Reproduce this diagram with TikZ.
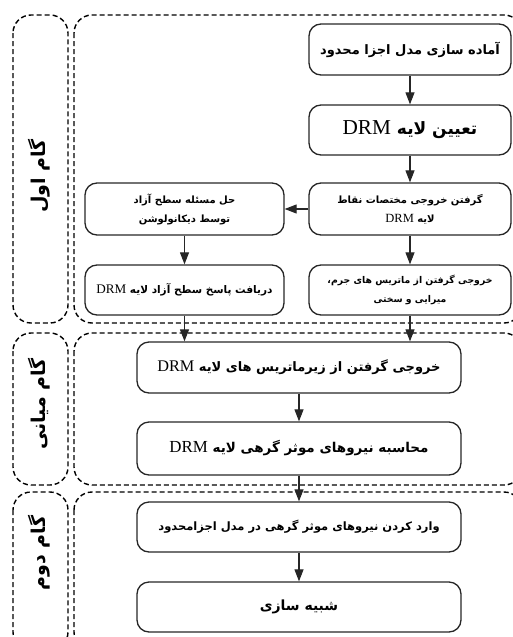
\documentclass[tikz,border=0pt]{standalone}
\usepackage{fontspec}
\setmainfont{Liberation Serif}
\newfontfamily\fa[Script=Arabic]{DejaVu Sans}
\TeXXeTstate=1
\usetikzlibrary{arrows.meta}
\newcommand{\rl}[1]{\beginR #1\endR}
\newcommand{\drm}{\beginL\scalebox{1.25}{\normalfont DRM}\endL}
\tikzset{
  frame/.style={draw=black, line width=1.4pt, dash pattern=on 5pt off 3pt, rounded corners=18pt},
  stepbox/.style={draw=black!85, line width=1.3pt, rounded corners=12pt, align=center, inner sep=2pt, font=\fa\bfseries},
  flow/.style={-{Triangle[width=9pt,length=12pt]}, line width=1.1pt, draw=black!85},
  stagelabel/.style={rotate=90, font=\fa\bfseries\fontsize{19}{21}\selectfont}
}
\begin{document}
\begin{tikzpicture}[x=1pt,y=-1pt]
\useasboundingbox (0,0) rectangle (513,637);
\begin{scope}
\clip (0,0) rectangle (513,637);
% stage frames
\draw[frame] (13,15) rectangle (68,323);
\draw[frame] (74,15) rectangle (522,323);
\draw[frame] (13,333) rectangle (68,485);
\draw[frame] (74,333) rectangle (522,485);
\draw[frame] (13,492) rectangle (68,650);
\draw[frame] (74,492) rectangle (522,650);
\end{scope}
% stage labels
\node[stagelabel] (s1) at (39,176) {\rl{گام اول}};
\node[stagelabel] (s2) at (39,404) {\rl{گام میانی}};
\node[stagelabel] (s3) at (39,553) {\rl{گام دوم}};
% boxes
\node[stepbox, minimum width=202pt, minimum height=51pt, font=\fa\bfseries\fontsize{13}{15}\selectfont] (b1) at (410,49.5) {\rl{آماده سازی مدل اجزا محدود}};
\node[stepbox, minimum width=202pt, minimum height=50pt, font=\fa\bfseries\fontsize{17}{19}\selectfont] (b2) at (410,130) {\rl{تعیین لایه \drm}};
\node[stepbox, minimum width=202pt, minimum height=52pt, font=\fa\bfseries\fontsize{10}{19}\selectfont] (b3) at (410,209) {\rl{گرفتن خروجی مختصات نقاط}\\\rl{لایه \drm}};
\node[stepbox, minimum width=202pt, minimum height=50pt, font=\fa\bfseries\fontsize{9.3}{19}\selectfont] (b4) at (410,290) {\rl{خروجی گرفتن از ماتریس های جرم،}\\\rl{میرایی و سختی}};
\node[stepbox, minimum width=199pt, minimum height=52pt, font=\fa\bfseries\fontsize{10}{19}\selectfont] (l1) at (184.5,209) {\rl{حل مسئله سطح آزاد}\\\rl{توسط دیکانولوشن}};
\node[stepbox, minimum width=199pt, minimum height=50pt, font=\fa\bfseries\fontsize{10.5}{14}\selectfont] (l2) at (184.5,290) {\rl{دریافت پاسخ سطح آزاد لایه \drm}};
\node[stepbox, minimum width=324pt, minimum height=51pt, font=\fa\bfseries\fontsize{13}{15}\selectfont] (m1) at (299,367.5) {\rl{خروجی گرفتن از زیرماتریس های لایه \drm}};
\node[stepbox, minimum width=324pt, minimum height=53pt, font=\fa\bfseries\fontsize{13.5}{15}\selectfont] (m2) at (299,448.5) {\rl{محاسبه نیروهای موثر گرهی لایه \drm}};
\node[stepbox, minimum width=324pt, minimum height=50pt, font=\fa\bfseries\fontsize{11.5}{15}\selectfont] (n1) at (299,527) {\rl{وارد کردن نیروهای موثر گرهی در مدل اجزامحدود}};
\node[stepbox, minimum width=324pt, minimum height=50pt, font=\fa\bfseries\fontsize{14}{16}\selectfont] (n2) at (299,607) {\rl{شبیه سازی}};
% connectors
\draw[flow] (b1) -- (b2);
\draw[flow] (b2) -- (b3);
\draw[flow] (b3) -- (b4);
\draw[flow] (b3) -- (l1);
\draw[flow] (l1) -- (l2);
\draw[flow] (l2.south) -- (l2.south |- m1.north);
\draw[flow] (b4.south) -- (b4.south |- m1.north);
\draw[flow] (m1) -- (m2);
\draw[flow] (m2) -- (n1);
\draw[flow] (n1) -- (n2);
\end{tikzpicture}
\end{document}
